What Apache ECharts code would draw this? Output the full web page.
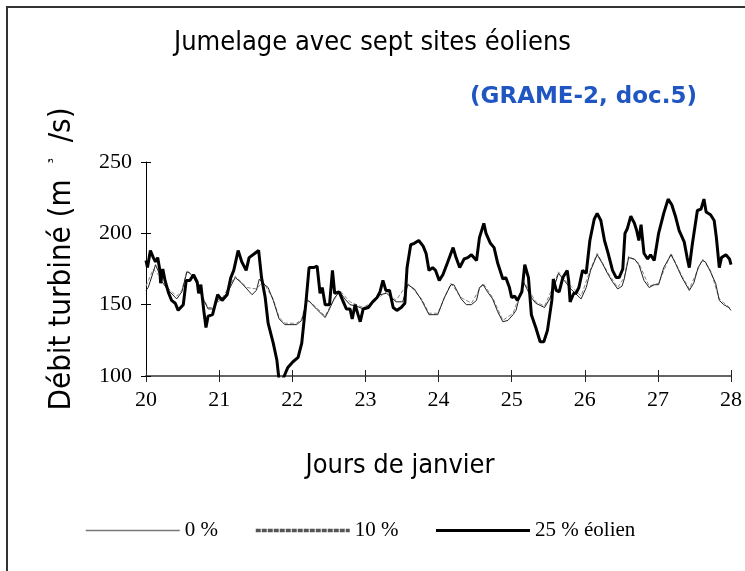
<!DOCTYPE html>
<html>
<head>
<meta charset="utf-8">
<script src="https://cdn.jsdelivr.net/npm/echarts@6/dist/echarts.min.js"></script>
<style>
  html, body { margin: 0; padding: 0; background: #fff; }
  #main { width: 745px; height: 571px; }
</style>
</head>
<body>
<div id="main"></div>
<script>
const narrow = '"Liberation Sans Narrow", "DejaVu Sans Condensed", "Arial Narrow", sans-serif'
const serif = '"Liberation Serif", "DejaVu Serif", serif'

const seriesNames = ['0 %', '10 %', '25 % éolien']
const yTicks = [100, 150, 200, 250]
const xTicks = [20, 21, 22, 23, 24, 25, 26, 27, 28]

// 0 % eolien (thin line)
const days0 = [20.00, 20.03, 20.10, 20.13, 20.18, 20.22, 20.29, 20.42, 20.49, 20.56, 20.60, 20.65, 20.70, 20.79, 20.85, 20.92, 20.99, 21.06, 21.13, 21.22, 21.29, 21.38, 21.45, 21.51, 21.55, 21.60, 21.67, 21.74, 21.82, 21.90, 22.01, 22.06, 22.13, 22.20, 22.24, 22.33, 22.45, 22.51, 22.58, 22.65, 22.72, 22.79, 22.88, 22.97, 23.10, 23.20, 23.29, 23.42, 23.51, 23.58, 23.67, 23.77, 23.87, 23.99, 24.08, 24.17, 24.21, 24.31, 24.38, 24.45, 24.52, 24.56, 24.61, 24.67, 24.74, 24.81, 24.88, 24.95, 25.02, 25.06, 25.12, 25.17, 25.27, 25.33, 25.45, 25.52, 25.58, 25.64, 25.72, 25.81, 25.95, 26.02, 26.08, 26.17, 26.24, 26.31, 26.38, 26.45, 26.51, 26.54, 26.60, 26.68, 26.74, 26.81, 26.88, 26.95, 27.01, 27.08, 27.18, 27.24, 27.33, 27.43, 27.49, 27.55, 27.61, 27.65, 27.72, 27.79, 27.84, 27.90, 27.97, 28.00]
const flow0 = [160, 162, 173, 178, 172, 166, 161, 154, 159, 173, 172, 169, 164, 153, 147, 147, 154, 155, 160, 169, 166, 161, 157, 160, 168, 165, 162, 153, 140, 136, 136, 136, 139, 153, 152, 147, 141, 147, 155, 159, 154, 150, 149, 147, 151, 157, 158, 152, 152, 164, 161, 153, 143, 143, 155, 164, 164, 154, 150, 150, 153, 162, 164, 159, 154, 145, 138, 139, 143, 146, 158, 165, 155, 151, 148, 154, 162, 172, 167, 161, 154, 162, 174, 185, 179, 172, 166, 161, 163, 168, 183, 182, 178, 167, 162, 164, 164, 176, 185, 179, 169, 160, 165, 176, 181, 180, 173, 165, 153, 150, 148, 146]

// 10 % eolien (dashed grey)
const days10 = [20.00, 20.10, 20.22, 20.29, 20.42, 20.49, 20.56, 20.65, 20.79, 20.85, 20.92, 21.06, 21.22, 21.38, 21.51, 21.60, 21.74, 21.82, 21.90, 22.06, 22.13, 22.20, 22.33, 22.45, 22.51, 22.65, 22.79, 22.97, 23.10, 23.29, 23.42, 23.58, 23.77, 23.87, 23.99, 24.17, 24.31, 24.45, 24.61, 24.74, 24.88, 25.02, 25.17, 25.33, 25.45, 25.58, 25.64, 25.81, 25.95, 26.08, 26.17, 26.31, 26.45, 26.54, 26.60, 26.74, 26.88, 27.01, 27.18, 27.33, 27.43, 27.61, 27.72, 27.84, 28.00]
const flow10 = [163, 175, 168, 162, 156, 160, 174, 170, 154, 148, 148, 156, 170, 162, 161, 166, 154, 141, 137, 137, 140, 154, 148, 142, 148, 160, 152, 148, 152, 159, 153, 165, 154, 144, 144, 165, 155, 151, 165, 155, 139, 144, 166, 152, 149, 164, 173, 163, 156, 175, 186, 173, 162, 169, 184, 179, 163, 165, 186, 170, 161, 182, 174, 154, 147]

// 25 % eolien (thick line)
const days25 = [20.00, 20.02, 20.06, 20.10, 20.13, 20.16, 20.19, 20.20, 20.23, 20.26, 20.31, 20.35, 20.40, 20.44, 20.51, 20.55, 20.60, 20.65, 20.70, 20.72, 20.75, 20.79, 20.82, 20.85, 20.91, 20.98, 21.04, 21.11, 21.16, 21.20, 21.26, 21.31, 21.37, 21.41, 21.49, 21.54, 21.58, 21.63, 21.67, 21.74, 21.79, 21.82, 21.86, 21.89, 21.94, 22.01, 22.08, 22.13, 22.19, 22.23, 22.29, 22.34, 22.38, 22.41, 22.45, 22.51, 22.55, 22.58, 22.64, 22.69, 22.74, 22.79, 22.82, 22.86, 22.90, 22.93, 22.97, 23.04, 23.10, 23.16, 23.20, 23.24, 23.28, 23.33, 23.38, 23.43, 23.49, 23.54, 23.57, 23.62, 23.67, 23.73, 23.79, 23.83, 23.87, 23.92, 23.96, 24.01, 24.06, 24.12, 24.20, 24.24, 24.29, 24.35, 24.40, 24.45, 24.52, 24.56, 24.62, 24.65, 24.71, 24.76, 24.81, 24.88, 24.92, 24.97, 25.00, 25.04, 25.08, 25.14, 25.18, 25.23, 25.27, 25.33, 25.39, 25.44, 25.49, 25.55, 25.57, 25.61, 25.65, 25.70, 25.76, 25.78, 25.80, 25.85, 25.88, 25.92, 25.97, 26.02, 26.07, 26.13, 26.17, 26.22, 26.27, 26.32, 26.38, 26.43, 26.47, 26.52, 26.55, 26.58, 26.63, 26.68, 26.71, 26.74, 26.77, 26.81, 26.86, 26.90, 26.95, 27.01, 27.08, 27.14, 27.19, 27.24, 27.29, 27.36, 27.40, 27.43, 27.47, 27.54, 27.59, 27.63, 27.66, 27.72, 27.77, 27.80, 27.84, 27.87, 27.93, 27.98, 28.00]
const flow25 = [181, 176, 188, 183, 180, 183, 174, 165, 175, 167, 158, 153, 151, 146, 150, 167, 167, 171, 166, 158, 164, 146, 134, 142, 143, 157, 153, 157, 169, 174, 188, 180, 174, 183, 186, 188, 169, 155, 137, 123, 111, 97, 96, 100, 106, 110, 113, 123, 153, 176, 176, 177, 158, 162, 150, 150, 174, 158, 159, 153, 147, 147, 140, 150, 143, 138, 147, 148, 152, 155, 159, 167, 160, 160, 148, 146, 148, 151, 176, 192, 193, 195, 191, 186, 174, 176, 174, 167, 171, 179, 190, 183, 176, 182, 183, 185, 181, 197, 207, 200, 193, 190, 179, 168, 169, 162, 155, 156, 153, 159, 178, 169, 143, 134, 124, 124, 132, 153, 168, 160, 159, 169, 174, 167, 152, 158, 158, 162, 174, 172, 195, 210, 214, 209, 195, 186, 174, 169, 169, 175, 200, 203, 212, 207, 202, 195, 206, 186, 182, 185, 181, 200, 214, 224, 220, 212, 202, 194, 183, 176, 192, 216, 217, 224, 215, 213, 209, 197, 176, 183, 185, 182, 178]

const pairs = (d, v) => d.map((x, i) => [x, v[i]])

const chart = echarts.init(document.getElementById('main'))

const option = {
  backgroundColor: '#fff',
  animation: false,
  title: {
    text: 'Jumelage avec sept sites éoliens',
    left: 'center',
    top: 24,
    textStyle: { fontFamily: narrow, fontSize: 27, fontWeight: 'normal', color: '#000' },
  },
  grid: { left: 146, right: 12, top: 162, bottom: 195, containLabel: false },
  legend: {
    top: 515,
    left: 80,
    itemWidth: 94,
    itemHeight: 12,
    itemGap: 36,
    selectedMode: false,
    textStyle: { fontFamily: serif, fontSize: 21, color: '#000' },
    data: [
      { name: seriesNames[0], itemStyle: { opacity: 0 }, lineStyle: { color: '#777', width: 1.5, type: 'solid' } },
      { name: seriesNames[1], itemStyle: { opacity: 0 }, lineStyle: { color: '#555', width: 3.5, type: [5, 1] } },
      { name: seriesNames[2], itemStyle: { opacity: 0 }, lineStyle: { color: '#000', width: 3, type: 'solid' } },
    ],
  },
  xAxis: [
    {
      type: 'value', min: 20, max: 28, interval: 1,
      axisLine: { show: true, lineStyle: { color: '#666', width: 2 } },
      axisTick: { show: true, length: 6, lineStyle: { color: '#222', width: 1 } },
      axisLabel: { fontFamily: serif, fontSize: 22, color: '#000', margin: 13, customValues: xTicks },
      splitLine: { show: false },
    },
    {
      type: 'value', min: 20, max: 28, interval: 1, position: 'bottom',
      axisLine: { show: false },
      axisTick: { show: true, inside: true, length: 6, lineStyle: { color: '#222', width: 1 } },
      axisLabel: { show: false },
      splitLine: { show: false },
    },
  ],
  yAxis: [
    {
      type: 'value', min: 100, max: 250, interval: 50,
      axisLine: { show: true, lineStyle: { color: '#000', width: 1 } },
      axisTick: { show: true, length: 5, lineStyle: { color: '#000' } },
      axisLabel: { fontFamily: serif, fontSize: 22, color: '#000', margin: 14, customValues: yTicks },
      splitLine: { show: false },
    },
    {
      type: 'value', min: 100, max: 250, interval: 50, position: 'left',
      axisLine: { show: false },
      axisTick: { show: true, inside: true, length: 5, lineStyle: { color: '#000' } },
      axisLabel: { show: false },
      splitLine: { show: false },
    },
  ],
  series: [
    {
      name: seriesNames[0], type: 'line', symbol: 'none', smooth: false,
      data: pairs(days0, flow0),
      lineStyle: { color: '#222', width: 1 },
      itemStyle: { color: '#777' },
      z: 2,
    },
    {
      name: seriesNames[1], type: 'line', symbol: 'none',
      data: pairs(days10, flow10),
      lineStyle: { color: '#888', width: 1, type: [4, 2] },
      itemStyle: { color: '#555' },
      z: 1,
    },
    {
      name: seriesNames[2], type: 'line', symbol: 'none',
      data: pairs(days25, flow25),
      lineStyle: { color: '#000', width: 3 },
      itemStyle: { color: '#000' },
      z: 3,
    },
  ],
  graphic: [
    {
      type: 'rect', silent: true,
      shape: { x: 7, y: 7, width: 780, height: 620 },
      style: { fill: 'none', stroke: '#333', lineWidth: 2 },
    },
    {
      type: 'text', silent: true,
      x: 697, y: 97,
      style: {
        text: '(GRAME-2, doc.5)',
        fill: '#1f56c2',
        font: 'bold 23px "DejaVu Sans", sans-serif',
        align: 'right', verticalAlign: 'middle',
      },
    },
    {
      type: 'text', silent: true,
      x: 400, y: 466,
      style: {
        text: 'Jours de janvier',
        fill: '#000',
        font: '27px ' + narrow,
        align: 'center', verticalAlign: 'middle',
      },
    },
    {
      type: 'text', silent: true,
      x: 62, y: 259,
      rotation: Math.PI / 2,
      style: {
        text: '{a|Débit turbiné (m}{b|³}{a|/s)}',
        rich: {
          a: { fontFamily: narrow, fontSize: 31, fill: '#000' },
          b: { fontFamily: narrow, fontSize: 14, fill: '#000', padding: [0, 16, 16, 16] },
        },
        align: 'center', verticalAlign: 'middle',
      },
    },
  ],
}

chart.setOption(option)
</script>
</body>
</html>
